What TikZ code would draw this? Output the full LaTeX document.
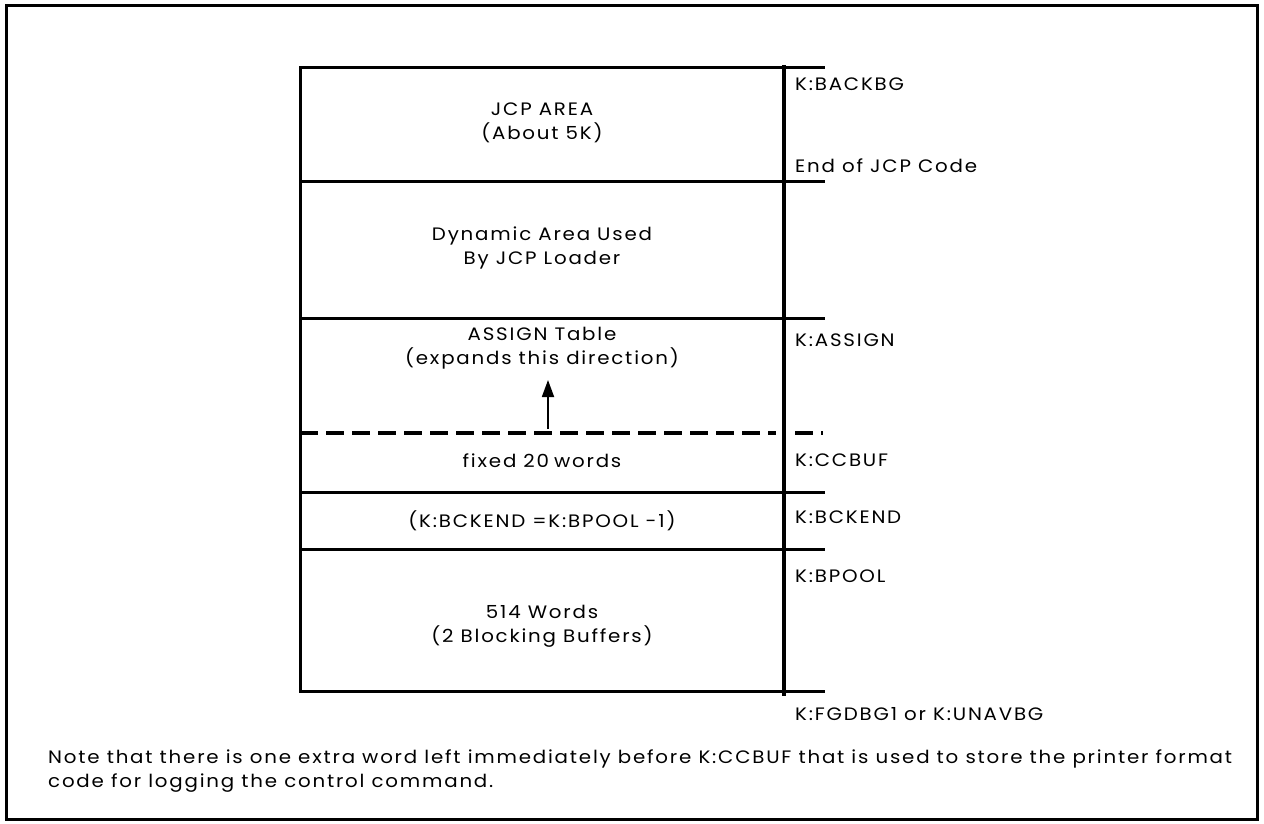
\documentclass[tikz,border=0pt]{standalone}
\usepackage{fontspec}
\setmainfont{Poppins}[LetterSpace=10,FakeStretch=1.1]
\usetikzlibrary{arrows.meta}
\tikzset{
 rule/.style={line width=3pt, line cap=rect},
 cut/.style={line width=4pt, dash pattern=on 18pt off 8pt},
 cell/.style={align=center, inner sep=0pt, font=\fontsize{18}{24}\selectfont},
 addr/.style={anchor=west, inner sep=0pt, font=\fontsize{18}{24}\selectfont},
 growarrow/.style={-{Triangle[length=17pt,width=12pt]}, line width=1.8pt}
}

\begin{document}
\begin{tikzpicture}[x=1pt,y=-1pt]
\useasboundingbox (0,0) rectangle (1264,823);
% frame
\draw[line width=3pt] (6,5) rectangle (1257,819);
% memory map
\foreach \y in {67,181,318,492,549,691}
 \draw[rule] (300,\y) -- (823,\y);
\draw[rule] (300,67) -- (300,691);
\draw[rule, line width=3.6pt] (784,67) -- (784,694);
\draw[cut] (300,433) -- (776,433);
\draw[cut] (795,433) -- (823,433);
% contents
\node[cell] (jcp) at (542,123) {JCP AREA\\(About 5K)};
\node[cell] (dyn) at (542,248) {Dynamic Area Used\\By JCP Loader};
\node[cell] (assign) at (542,348) {ASSIGN Table\\(expands this direction)};
\coordinate (growbase) at (548,429);
\coordinate (growtip) at (548,380);
\draw[growarrow] (growbase) -- (growtip);
\node[cell] (fixed) at (542,461) {fixed 20\hspace{5pt}words};
\node[cell] (bckend) at (542,521) {(K:BCKEND =K:BPOOL -1)};
\node[cell] (buf) at (542,626) {514 Words\\(2 Blocking Buffers)};
% addresses
\node[addr] (backbg) at (795,84) {K:BACKBG};
\node[addr] (endjcp) at (795,166) {End of JCP Code};
\node[addr] (kassign) at (795,340) {K:ASSIGN};
\node[addr] (ccbuf) at (795,460) {K:CCBUF};
\node[addr] (kbckend) at (795,517) {K:BCKEND};
\node[addr] (bpool) at (795,576) {K:BPOOL};
\node[addr] (fgdbg) at (795,714) {K:FGDBG1 or K:UNAVBG};
% note
\node[addr, align=left] (note) at (48,771) {Note that there is one extra word left immediately before K:CCBUF that is used to store the printer format\\code for logging the control command.};
\end{tikzpicture}
\end{document}
